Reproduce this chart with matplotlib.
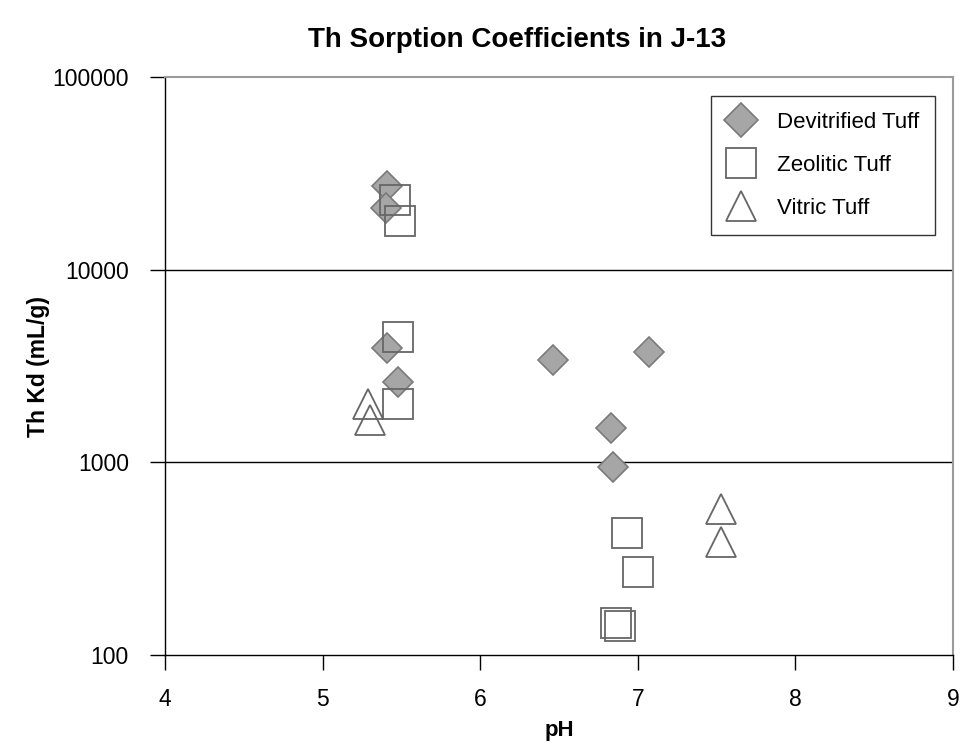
import matplotlib
matplotlib.use("Agg")
import matplotlib.pyplot as plt
from matplotlib.ticker import FixedLocator, NullLocator, FixedFormatter

plt.rcParams['font.family'] = ['Liberation Sans', 'DejaVu Sans']

devit_ph = [5.41, 5.40, 5.41, 5.48, 6.46, 7.07, 6.83, 6.84]
devit_kd = [27100, 20900, 3920, 2610, 3390, 3740, 1500, 950]

zeo_ph = [5.46, 5.49, 5.48, 5.48, 6.93, 7.00, 6.86, 6.89]
zeo_kd = [23000, 17900, 4470, 2000, 430, 270, 147, 141]

vit_ph = [5.29, 5.30, 7.53, 7.53]
vit_kd = [2010, 1660, 573, 386]

x_ticks = [4, 5, 6, 7, 8, 9]
y_ticks = [100, 1000, 10000, 100000]
y_labels = ['100', '1000', '10000', '100000']

fig = plt.figure(figsize=(9.61, 7.45), dpi=100)
ax = fig.add_axes([0.1717, 0.1208, 0.82, 0.7758])

ax.set_yscale('log')
ax.set_xlim(4, 9)
ax.set_ylim(100, 100000)

for yv in [1000, 10000]:
    ax.axhline(yv, color='black', lw=1.0, zorder=1)

ax.plot(devit_ph, devit_kd, linestyle='none', marker='D', markersize=15.5,
        markerfacecolor='#a6a6a6', markeredgecolor='#7a7a7a', markeredgewidth=1.2,
        label='Devitrified Tuff', zorder=3)
ax.plot(zeo_ph, zeo_kd, linestyle='none', marker='s', markersize=21,
        markerfacecolor='none', markeredgecolor='#666666', markeredgewidth=1.3,
        label='Zeolitic Tuff', zorder=4)
ax.plot(vit_ph, vit_kd, linestyle='none', marker='^', markersize=22,
        markerfacecolor='none', markeredgecolor='#666666', markeredgewidth=1.3,
        label='Vitric Tuff', zorder=4)

ax.xaxis.set_major_locator(FixedLocator(x_ticks))
ax.yaxis.set_major_locator(FixedLocator(y_ticks))
ax.yaxis.set_major_formatter(FixedFormatter(y_labels))
ax.yaxis.set_minor_locator(NullLocator())
ax.set_xticklabels([str(v) for v in x_ticks])

ax.tick_params(axis='both', direction='out', length=11, width=1.0, color='black',
               labelsize=16.5)
ax.tick_params(axis='x', pad=13)
ax.tick_params(axis='y', pad=15)

for side in ['left', 'bottom']:
    ax.spines[side].set_color('black')
    ax.spines[side].set_linewidth(1.0)
for side in ['top', 'right']:
    ax.spines[side].set_color('#9a9a9a')
    ax.spines[side].set_linewidth(1.5)

ax.set_xlabel('pH', fontsize=16, fontweight='bold', labelpad=6.5)
ax.set_ylabel('Th Kd (mL/g)', fontsize=16.5, fontweight='bold')
ax.yaxis.set_label_coords(-0.146, 0.5)
fig.text(517 / 961, 1 - 40 / 745, 'Th Sorption Coefficients in J-13', fontsize=20,
         fontweight='bold', ha='center', va='center')

leg = ax.legend(loc='upper right', bbox_to_anchor=(935 / 961, 1 - 96 / 745),
                bbox_transform=fig.transFigure, borderaxespad=0, fontsize=16,
                frameon=True, fancybox=False, edgecolor='black', borderpad=0.7,
                labelspacing=1.0, handletextpad=1.0, handlelength=1.3)
leg.get_frame().set_linewidth(1.0)
leg.legend_handles[0].set_markersize(17.5)

fig.savefig('out.png', dpi=100, facecolor='white')
